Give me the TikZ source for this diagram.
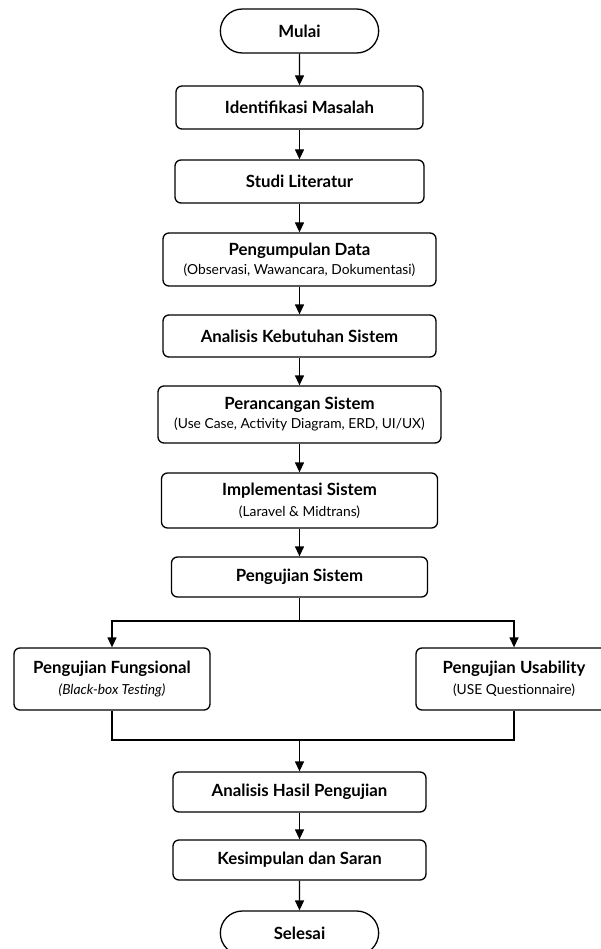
\documentclass[tikz,border=0pt]{standalone}
\usepackage{fontspec}
\setmainfont{Lato}
\usepackage{tikz}
\usetikzlibrary{arrows.meta}
\usetikzlibrary{shapes.misc}
\newcommand{\titlefont}{\fontsize{16.8}{19}\selectfont\bfseries}
\newcommand{\subfont}{\fontsize{13.8}{16}\selectfont\mdseries}
\tikzstyle{proc}=[draw, rounded corners=6pt, line width=1.3pt, align=center, inner sep=2pt, font=\titlefont]
\tikzstyle{term}=[draw, rounded rectangle, line width=1.3pt, minimum width=165pt, minimum height=44pt, font=\titlefont]
\tikzstyle{wire}=[line width=1.3pt]
\tikzstyle{arr}=[wire, -{Triangle[length=10pt,width=9pt]}]

\begin{document}
\begin{tikzpicture}[x=1pt, y=-1pt]
	\useasboundingbox (0,0) rectangle (601,949);
	% main column
	\node[term] (mulai) at (299.5,31) {Mulai};
	\node[proc, minimum width=247pt, minimum height=43pt] (ident) at (299.5,107.5) {Identifikasi Masalah};
	\node[proc, minimum width=249pt, minimum height=43pt] (studi) at (299.5,181.5) {Studi Literatur};
	\node[proc, minimum width=273pt, minimum height=53pt] (data) at (299.5,259.5) {Pengumpulan Data\\[0pt]{\subfont (Observasi, Wawancara, Dokumentasi)}};
	\node[proc, minimum width=273pt, minimum height=42pt] (kebut) at (299.5,336) {Analisis Kebutuhan Sistem};
	\node[proc, minimum width=283pt, minimum height=57pt] (rancang) at (299.5,414.5) {Perancangan Sistem\\[0pt]{\subfont (Use Case, Activity Diagram, ERD, UI/UX)}};
	\node[proc, minimum width=276pt, minimum height=55pt] (impl) at (299.5,500.5) {Implementasi Sistem\\[2pt]{\subfont (Laravel \& Midtrans)}};
	\node[proc, minimum width=256pt, minimum height=40pt] (uji) at (299.5,577) {Pengujian Sistem};
	% two tests
	\node[proc, minimum width=196pt, minimum height=62pt] (fungs) at (112,679) {Pengujian Fungsional\\[2pt]{\subfont\itshape (Black-box Testing)}};
	\node[proc, minimum width=196pt, minimum height=62pt] (usab) at (514,679) {Pengujian Usability\\[2pt]{\subfont (USE Questionnaire)}};
	\node[proc, minimum width=253pt, minimum height=40pt] (hasil) at (299.5,792) {Analisis Hasil Pengujian};
	\node[proc, minimum width=253pt, minimum height=40pt] (simpul) at (299.5,860) {Kesimpulan dan Saran};
	\node[term] (selesai) at (299.5,933) {Selesai};
	\coordinate (split) at (299.5,621);
	\coordinate (join) at (299.5,740);
	% arrows
	\draw[arr] (mulai) -- (ident);
	\draw[arr] (ident) -- (studi);
	\draw[arr] (studi) -- (data);
	\draw[arr] (data) -- (kebut);
	\draw[arr] (kebut) -- (rancang);
	\draw[arr] (rancang) -- (impl);
	\draw[arr] (impl) -- (uji);
	\draw[wire] (uji) -- (split);
	\draw[arr] (split) -| (fungs);
	\draw[arr] (split) -| (usab);
	\draw[wire] (fungs) |- (join);
	\draw[wire] (usab) |- (join);
	\draw[arr] (join) -- (hasil);
	\draw[arr] (hasil) -- (simpul);
	\draw[arr] (simpul) -- (selesai);
\end{tikzpicture}
\end{document}
